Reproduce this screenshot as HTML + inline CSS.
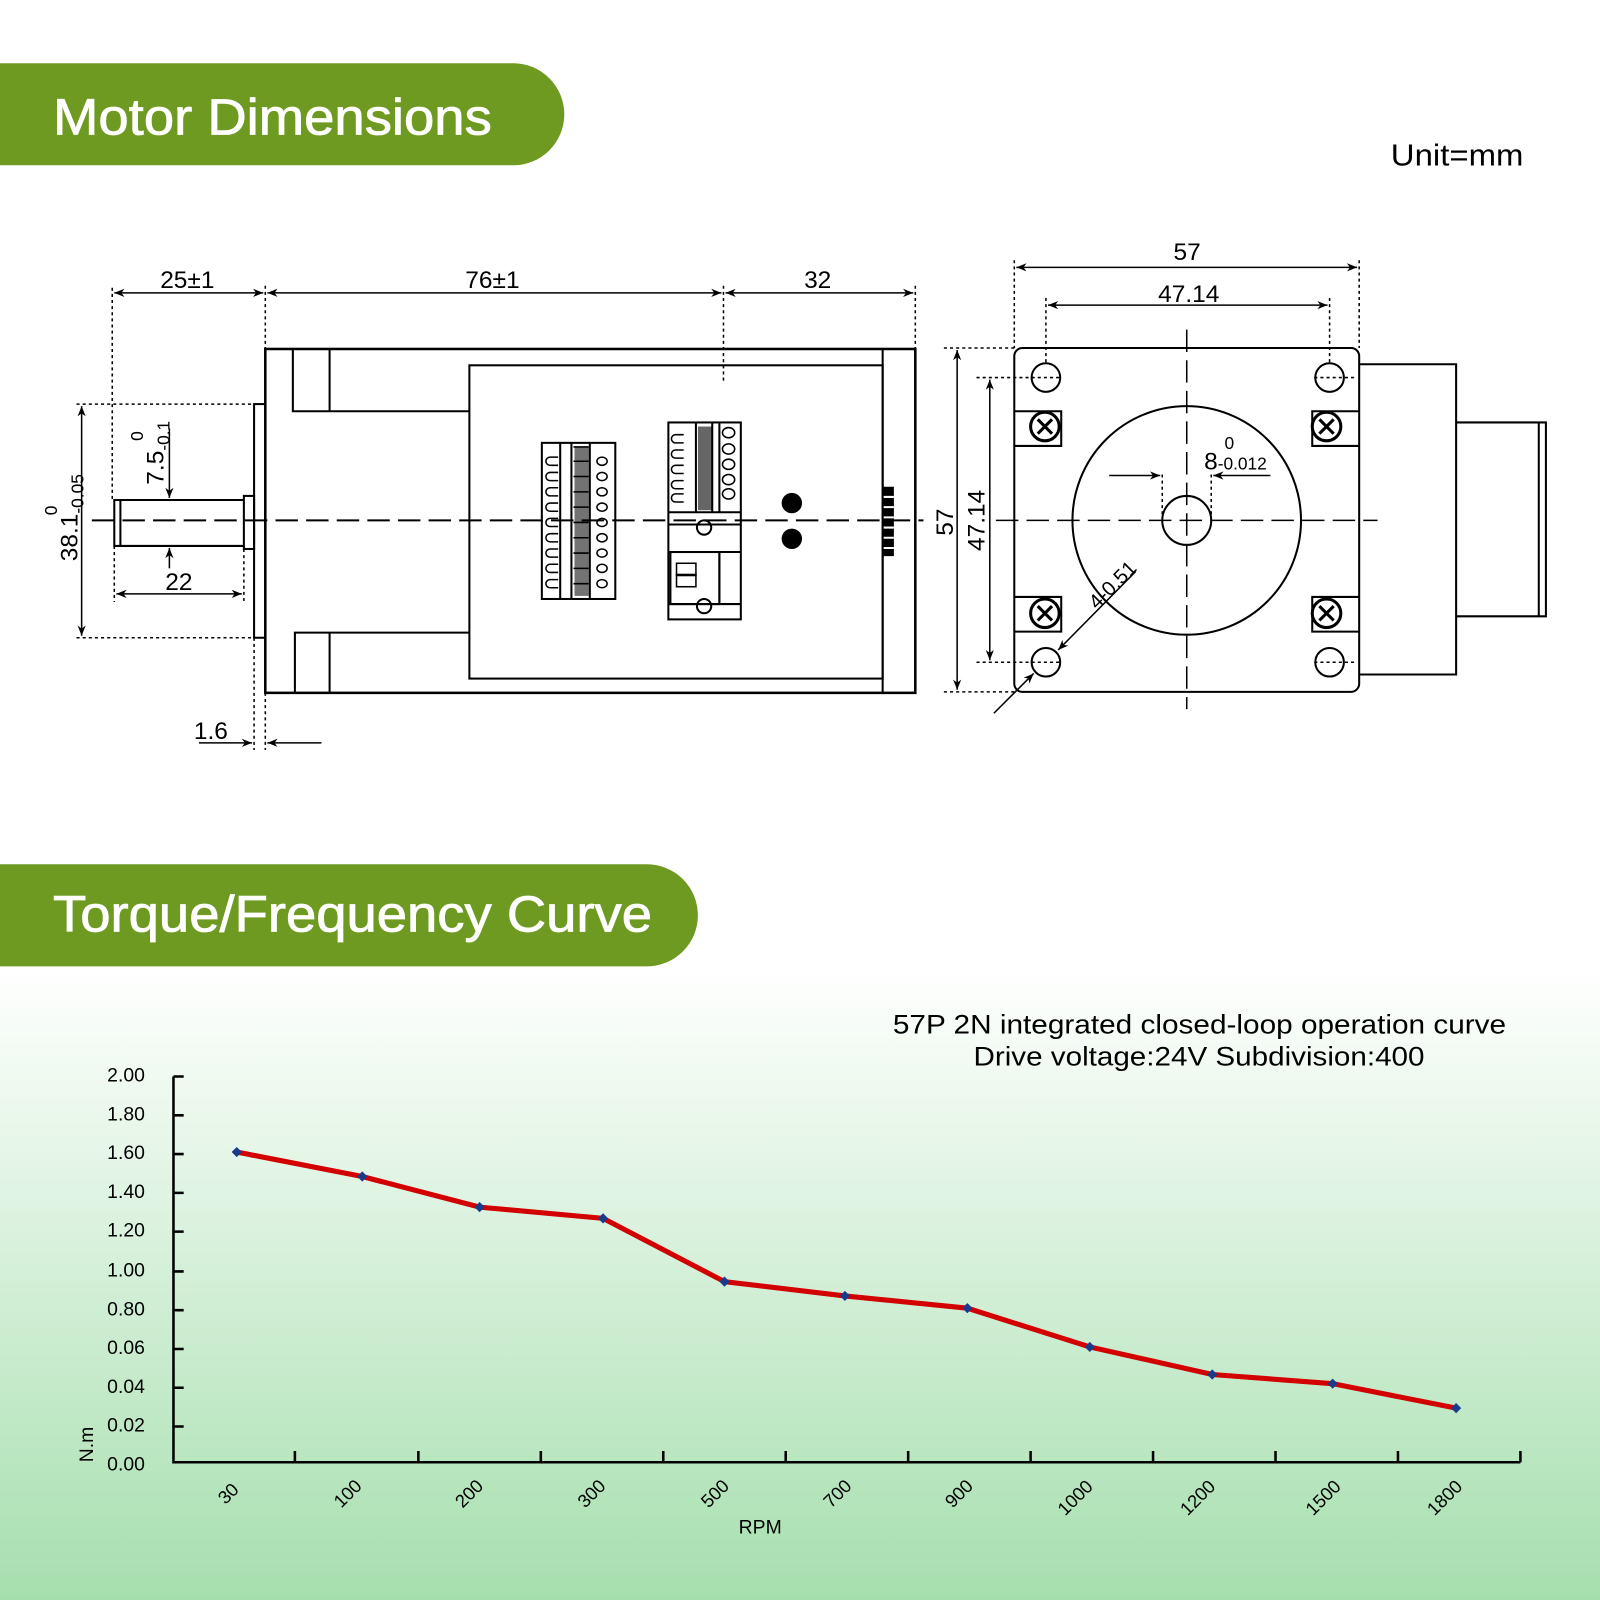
<!DOCTYPE html>
<html><head><meta charset="utf-8"><style>
html,body{margin:0;padding:0;background:#fff}
svg{display:block}
text{font-family:"Liberation Sans",sans-serif}
</style></head><body>
<svg width="1600" height="1600" viewBox="0 0 1568 1568" xmlns="http://www.w3.org/2000/svg">
<defs>
<linearGradient id="bg" x1="0" y1="0" x2="0" y2="1">
<stop offset="0" stop-color="#ffffff"/><stop offset="1" stop-color="#a6dfae"/>
</linearGradient>
<marker id="a" viewBox="0 0 10 10" refX="10" refY="5" markerWidth="10" markerHeight="10" orient="auto-start-reverse" markerUnits="userSpaceOnUse"><path d="M0,1 L10,5 L0,9 L3,5z" fill="#000"/></marker>
</defs>
<rect x="0" y="950" width="1568" height="618" fill="url(#bg)"/>
<path d="M0,62 H503 A50,50 0 0 1 503,162 H0z" fill="#6f9a22"/>
<text x="52" y="132" font-size="50" fill="#fff" textLength="430" lengthAdjust="spacingAndGlyphs" stroke="#fff" stroke-width="0.8">Motor Dimensions</text>
<text x="1363" y="162" font-size="30" textLength="130" lengthAdjust="spacingAndGlyphs">Unit=mm</text>
<path d="M0,847 H634 A50,50 0 0 1 634,947 H0z" fill="#6f9a22"/>
<text x="52" y="913" font-size="50" fill="#fff" textLength="587" lengthAdjust="spacingAndGlyphs" stroke="#fff" stroke-width="0.8">Torque/Frequency Curve</text>

<g stroke="#000" fill="none" stroke-width="2">
<rect x="260" y="342" width="637" height="337" stroke-width="2.5"/>
<path d="M287,342 V403 H460 M323,342 V403 M289,679 V620 H460 M323,679 V620"/>
<rect x="460" y="358" width="405" height="307"/>
<line x1="865" y1="342" x2="865" y2="679"/>
<rect x="249" y="396" width="11" height="229"/>
<rect x="239" y="486" width="10" height="52"/>
<path d="M239,490 H112 V535 H239 M118,490 V535"/>
<line x1="90" y1="510" x2="905" y2="510" stroke-dasharray="22,8"/>
<rect x="531" y="434" width="72" height="153"/>
<path d="M549,434 V587 M560,434 V587 M578,434 V587"/>
<g fill="#000" stroke="none">
<rect x="563" y="438" width="14" height="146" opacity="0.55"/>
</g>
<g stroke-width="1.5">
<path d="M562,438 H577 M562,452 H577 M562,467 H577 M562,482 H577 M562,497 H577 M562,512 H577 M562,527 H577 M562,542 H577 M562,557 H577 M562,572 H577"/>
<ellipse cx="590" cy="452" rx="5" ry="4"/><ellipse cx="590" cy="467" rx="5" ry="4"/><ellipse cx="590" cy="482" rx="5" ry="4"/><ellipse cx="590" cy="497" rx="5" ry="4"/><ellipse cx="590" cy="512" rx="5" ry="4"/><ellipse cx="590" cy="527" rx="5" ry="4"/><ellipse cx="590" cy="542" rx="5" ry="4"/><ellipse cx="590" cy="557" rx="5" ry="4"/><ellipse cx="590" cy="572" rx="5" ry="4"/>
<path d="M547,448 h-8 a4,4 0 0 0 0,8 h8 M547,463 h-8 a4,4 0 0 0 0,8 h8 M547,478 h-8 a4,4 0 0 0 0,8 h8 M547,493 h-8 a4,4 0 0 0 0,8 h8 M547,508 h-8 a4,4 0 0 0 0,8 h8 M547,523 h-8 a4,4 0 0 0 0,8 h8 M547,538 h-8 a4,4 0 0 0 0,8 h8 M547,553 h-8 a4,4 0 0 0 0,8 h8 M547,568 h-8 a4,4 0 0 0 0,8 h8"/>
</g>
<rect x="655" y="414" width="71" height="193"/>
<path d="M655,502 H726 M655,514 H726 M655,541 H726 M655,592 H726 M682,414 V502 M698,414 V502 M705,414 V502 M705,541 V592"/>
<rect x="657" y="541" width="48" height="51"/>
<rect x="663" y="552" width="19" height="12" stroke-width="1.5"/><rect x="663" y="563" width="19" height="12" stroke-width="1.5"/>
<circle cx="690" cy="517" r="7"/><circle cx="690" cy="594" r="7"/>
<g fill="#000" stroke="none"><rect x="684" y="418" width="14" height="82" opacity="0.6"/></g>
<g stroke-width="1.5">
<ellipse cx="714" cy="424" rx="6" ry="5"/><ellipse cx="714" cy="440" rx="6" ry="5"/><ellipse cx="714" cy="455" rx="6" ry="5"/><ellipse cx="714" cy="470" rx="6" ry="5"/><ellipse cx="714" cy="484" rx="6" ry="5"/>
<path d="M670,426 h-8 a4,4 0 0 0 0,8 h8 M670,441 h-8 a4,4 0 0 0 0,8 h8 M670,456 h-8 a4,4 0 0 0 0,8 h8 M670,471 h-8 a4,4 0 0 0 0,8 h8 M670,484 h-8 a4,4 0 0 0 0,8 h8"/>
</g>
</g>
<circle cx="776" cy="493" r="10"/><circle cx="776" cy="528" r="10"/>
<rect x="865" y="477" width="11" height="68" fill="#000"/>
<g stroke="#fff" stroke-width="2"><path d="M866,487h10M866,497h10M866,507h10M866,517h10M866,527h10M866,537h10"/></g>

<g stroke="#000" fill="none" stroke-width="1.5">
<g stroke-dasharray="3,3">
<path d="M110,282 V490 M260,280 V342 M709,280 V376 M897,280 V342 M75,396 H249 M75,625 H249 M112,535 V590 M239,538 V590 M249,625 V735 M260,679 V735"/>
</g>
<line x1="112" y1="287" x2="258" y2="287" marker-start="url(#a)" marker-end="url(#a)"/>
<line x1="262" y1="287" x2="707" y2="287" marker-start="url(#a)" marker-end="url(#a)"/>
<line x1="711" y1="287" x2="895" y2="287" marker-start="url(#a)" marker-end="url(#a)"/>
<line x1="80" y1="398" x2="80" y2="623" marker-start="url(#a)" marker-end="url(#a)"/>
<line x1="114" y1="582" x2="237" y2="582" marker-start="url(#a)" marker-end="url(#a)"/>
<line x1="166" y1="420" x2="166" y2="488" marker-end="url(#a)"/>
<line x1="166" y1="557" x2="166" y2="537" marker-end="url(#a)"/>
<line x1="195" y1="728" x2="247" y2="728" marker-end="url(#a)"/>
<line x1="315" y1="728" x2="262" y2="728" marker-end="url(#a)"/>
</g>
<g font-size="24">
<text x="157" y="282">25±1</text><text x="456" y="282">76±1</text><text x="788" y="282">32</text>
<text x="162" y="578">22</text><text x="190" y="724">1.6</text>
<text transform="translate(76,550) rotate(-90)">38.1<tspan font-size="17" dy="6">-0.05</tspan></text>
<text transform="translate(56,505) rotate(-90)" font-size="17">0</text>
<text transform="translate(160,475) rotate(-90)">7.5<tspan font-size="17" dy="6">-0.1</tspan></text>
<text transform="translate(140,432) rotate(-90)" font-size="17">0</text>
</g>

<g stroke="#000" fill="none" stroke-width="2">
<rect x="994" y="341" width="338" height="337" rx="8"/>
<path d="M1332,357 H1427 V661 H1332 M1427,414 H1515 V604 H1427 M1508,414 V604"/>
<path d="M994,403 H1040 V437 H994 M1332,403 H1286 V437 H1332 M994,585 H1040 V619 H994 M1332,585 H1286 V619 H1332"/>
<circle cx="1163" cy="510" r="112"/>
<circle cx="1163" cy="510" r="24"/>
<circle cx="1025" cy="370" r="14"/><circle cx="1303" cy="370" r="14"/><circle cx="1025" cy="649" r="14"/><circle cx="1303" cy="649" r="14"/>
<circle cx="1024" cy="418" r="14" stroke-width="3"/><circle cx="1300" cy="418" r="14" stroke-width="3"/><circle cx="1024" cy="601" r="14" stroke-width="3"/><circle cx="1300" cy="601" r="14" stroke-width="3"/>
<path d="M1017,411l14,14m0,-14l-14,14M1293,411l14,14m0,-14l-14,14M1017,594l14,14m0,-14l-14,14M1293,594l14,14m0,-14l-14,14" stroke-width="3"/>
</g>
<g stroke="#000" fill="none" stroke-width="1.5">
<path d="M976,510 H1350 M1163,323 V695" stroke-dasharray="22,8"/>
<g stroke-dasharray="3,3">
<path d="M994,255 V341 M1332,255 V341 M1025,292 V356 M1303,292 V356 M925,341 H994 M925,678 H994 M957,370 H1040 M957,649 H1040 M1288,370 H1330 M1288,649 H1330 M1139,465 V510 M1187,465 V510"/>
</g>
<line x1="996" y1="262" x2="1330" y2="262" marker-start="url(#a)" marker-end="url(#a)"/>
<line x1="1027" y1="299" x2="1301" y2="299" marker-start="url(#a)" marker-end="url(#a)"/>
<line x1="938" y1="343" x2="938" y2="676" marker-start="url(#a)" marker-end="url(#a)"/>
<line x1="970" y1="372" x2="970" y2="647" marker-start="url(#a)" marker-end="url(#a)"/>
<line x1="1087" y1="466" x2="1137" y2="466" marker-end="url(#a)"/>
<line x1="1245" y1="466" x2="1189" y2="466" marker-end="url(#a)"/>
<line x1="1113" y1="560" x2="1037" y2="637" marker-end="url(#a)"/>
<line x1="974" y1="699" x2="1013" y2="660" marker-end="url(#a)"/>
</g>
<g font-size="24">
<text x="1150" y="255">57</text><text x="1135" y="296">47.14</text>
<text x="1180" y="460">8<tspan font-size="17">-0.012</tspan></text>
<text x="1200" y="440" font-size="17">0</text>
<text transform="translate(934,525) rotate(-90)">57</text>
<text transform="translate(965,540) rotate(-90)">47.14</text>
<text transform="translate(1075,598) rotate(-45)" font-size="20">4-0.51</text>
</g>

<text x="875" y="1013" font-size="26" textLength="601" lengthAdjust="spacingAndGlyphs">57P 2N integrated closed-loop operation curve</text>
<text x="954" y="1044" font-size="26" textLength="442" lengthAdjust="spacingAndGlyphs">Drive voltage:24V Subdivision:400</text>
<g stroke="#000" stroke-width="2.5" fill="none">
<path d="M170,1055 V1433 H1490"/>
<path d="M170,1055h10M170,1093h10M170,1131h10M170,1169h10M170,1207h10M170,1246h10M170,1284h10M170,1322h10M170,1360h10M170,1398h10"/>
<path d="M289,1433v-11M410,1433v-11M530,1433v-11M650,1433v-11M770,1433v-11M890,1433v-11M1010,1433v-11M1130,1433v-11M1250,1433v-11M1370,1433v-11M1490,1433v-11"/>
</g>
<g font-size="19" text-anchor="end">
<text x="142" y="1060">2.00</text><text x="142" y="1098">1.80</text><text x="142" y="1136">1.60</text><text x="142" y="1174">1.40</text><text x="142" y="1212">1.20</text><text x="142" y="1251">1.00</text><text x="142" y="1289">0.80</text><text x="142" y="1327">0.06</text><text x="142" y="1365">0.04</text><text x="142" y="1403">0.02</text><text x="142" y="1441">0.00</text>
</g>
<text transform="translate(91,1433) rotate(-90)" font-size="19">N.m</text>
<g font-size="18" text-anchor="middle">
<text transform="translate(228,1468) rotate(-45)">30</text>
<text transform="translate(345,1468) rotate(-45)">100</text>
<text transform="translate(464,1468) rotate(-45)">200</text>
<text transform="translate(584,1468) rotate(-45)">300</text>
<text transform="translate(705,1468) rotate(-45)">500</text>
<text transform="translate(825,1468) rotate(-45)">700</text>
<text transform="translate(944,1468) rotate(-45)">900</text>
<text transform="translate(1058,1472) rotate(-45)">1000</text>
<text transform="translate(1178,1472) rotate(-45)">1200</text>
<text transform="translate(1301,1472) rotate(-45)">1500</text>
<text transform="translate(1420,1472) rotate(-45)">1800</text>
</g>
<text x="745" y="1503" font-size="19" text-anchor="middle">RPM</text>
<polyline points="232,1129 355,1153 470,1183 591,1194 710,1256 828,1270 948,1282 1068,1320 1188,1347 1306,1356 1427,1380" fill="none" stroke="#d20000" stroke-width="5"/>
<g fill="#1a3a8a">
<path d="M232,1124l5,5-5,5-5-5z M355,1148l5,5-5,5-5-5z M470,1178l5,5-5,5-5-5z M591,1189l5,5-5,5-5-5z M710,1251l5,5-5,5-5-5z M828,1265l5,5-5,5-5-5z M948,1277l5,5-5,5-5-5z M1068,1315l5,5-5,5-5-5z M1188,1342l5,5-5,5-5-5z M1306,1351l5,5-5,5-5-5z M1427,1375l5,5-5,5-5-5z"/>
</g>
</svg>
</body></html>
